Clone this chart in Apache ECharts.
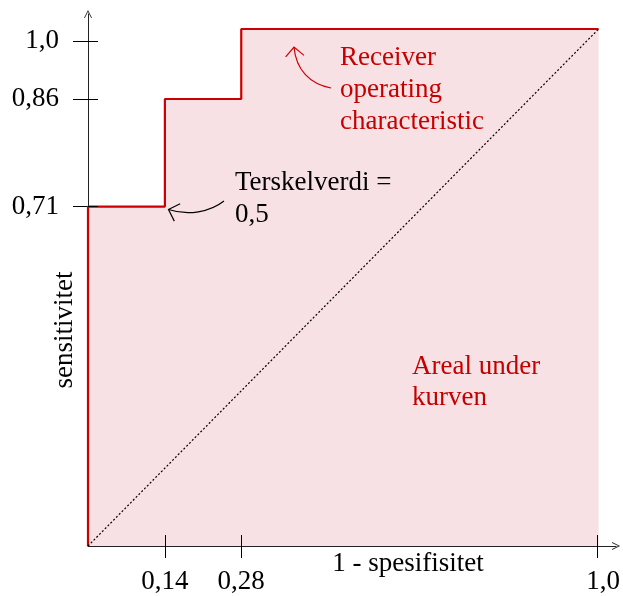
<!DOCTYPE html>
<html>
<head>
<meta charset="utf-8">
<script src="https://cdn.jsdelivr.net/npm/echarts@6/dist/echarts.min.js"></script>
<style>html,body{margin:0;padding:0;background:#fff}#c{width:623px;height:596px}</style>
</head>
<body>
<div id="c"></div>
<script>
// Tick positions (in drawing units) and their printed labels
const xTickValues = [0.151, 0.301, 1.0];
const xTickLabels = ['0,14', '0,28', '1,0'];
const yTickValues = [0.6725, 0.8855, 1.0];
const yTickLabels = ['0,71', '0,86', '1,0'];
// ROC step curve (1 - specificity, sensitivity) as drawn
const rocFpr = [0, 0, 0.151, 0.301, 1.003];
const rocTpr = [0, 0.6725, 0.8855, 1.0242, 1.0242];
// Chance diagonal
const diagFpr = [0, 1.003];
const diagTpr = [0, 1.0242];

const FONT = 'Liberation Serif';
const RED = '#cc0000';
const TXTRED = '#c40000';

function labelFor(vals, labs, v) {
  for (let i = 0; i < vals.length; i++) if (Math.abs(vals[i] - v) < 1e-6) return labs[i];
  return '';
}

const chart = echarts.init(document.getElementById('c'), null, {renderer: 'canvas'});

const arrowSym = 'path://M0,10 L5,0 L10,10 L8.9,10 L5,2.2 L1.1,10 Z';

const xMax = 1.0372, yMax = 1.0539;

function arrowGraphics(p0, p1, p2, p3, color) {
  const tx = p3[0] - p2[0], ty = p3[1] - p2[1];
  const len = Math.hypot(tx, ty);
  const bx = -tx / len, by = -ty / len;
  const L = 13, a = Math.PI / 4;
  const rot = (ang) => [p3[0] + L * (bx * Math.cos(ang) - by * Math.sin(ang)),
                        p3[1] + L * (bx * Math.sin(ang) + by * Math.cos(ang))];
  return [
    {type: 'bezierCurve', z: 20, shape: {x1: p0[0], y1: p0[1], cpx1: p1[0], cpy1: p1[1], cpx2: p2[0], cpy2: p2[1], x2: p3[0], y2: p3[1]},
     style: {stroke: color, lineWidth: 1.2, fill: null}},
    {type: 'polyline', z: 20, shape: {points: [rot(a), p3, rot(-a)]},
     style: {stroke: color, lineWidth: 1.2, fill: null}}
  ];
}

const option = {
  animation: false,
  backgroundColor: '#fff',
  grid: {left: 88, right: 5, top: 14, bottom: 50, containLabel: false},
  xAxis: [
    {
      type: 'value', min: 0, max: xMax, z: 5,
      splitLine: {show: false},
      axisLine: {show: true, lineStyle: {color: '#222', width: 1}, symbol: ['none', arrowSym], symbolSize: [9, 8]},
      axisTick: {show: true, length: 12, customValues: xTickValues, lineStyle: {color: '#000', width: 1}},
      axisLabel: {
        show: true, customValues: xTickValues, margin: 22,
        fontFamily: FONT, fontSize: 27, color: '#000',
        formatter: (v) => {
          const s = labelFor(xTickValues, xTickLabels, v);
          return Math.abs(v - 1) < 1e-6 ? '{r|' + s + '}' : s;
        },
        rich: {r: {fontFamily: FONT, fontSize: 27, color: '#000', padding: [0, 0, 0, 12]}}
      }
    },
    {
      type: 'value', min: 0, max: xMax, position: 'bottom', z: 5,
      splitLine: {show: false},
      axisLine: {show: false},
      axisTick: {show: true, inside: true, length: 11, customValues: xTickValues, lineStyle: {color: '#000', width: 1}},
      axisLabel: {show: false}
    }
  ],
  yAxis: [
    {
      type: 'value', min: 0, max: yMax, z: 0,
      splitLine: {show: false},
      axisLine: {show: true, lineStyle: {color: '#222', width: 1}, symbol: ['none', arrowSym], symbolSize: [9, 8]},
      axisTick: {show: true, length: 15, customValues: yTickValues, lineStyle: {color: '#000', width: 1}},
      axisLabel: {
        show: true, customValues: yTickValues, margin: 29,
        fontFamily: FONT, fontSize: 27, color: '#000', padding: [4, 0, 0, 0],
        formatter: (v) => labelFor(yTickValues, yTickLabels, v)
      }
    },
    {
      type: 'value', min: 0, max: yMax, position: 'left', z: 5,
      splitLine: {show: false},
      axisLine: {show: false},
      axisTick: {show: true, inside: true, length: 10, customValues: yTickValues, lineStyle: {color: '#000', width: 1}},
      axisLabel: {show: false}
    }
  ],
  series: [
    {
      name: 'ROC', type: 'line', step: 'end', xAxisIndex: 0, yAxisIndex: 0,
      data: rocFpr.map((x, i) => [x, rocTpr[i]]),
      showSymbol: false, symbol: 'none', z: 3,
      lineStyle: {color: RED, width: 2.2},
      areaStyle: {color: '#f7e1e4', opacity: 1, origin: 'start'}
    },
    {
      name: 'diag', type: 'line', xAxisIndex: 0, yAxisIndex: 0,
      data: diagFpr.map((x, i) => [x, diagTpr[i]]),
      showSymbol: false, symbol: 'none', z: 4,
      lineStyle: {color: '#000', width: 1.2, type: [2, 2]}
    }
  ],
  graphic: [
    {type: 'text', z: 20, x: 340, y: 41.5, style: {text: 'Receiver\noperating\ncharacteristic', fill: TXTRED, font: '27px "' + FONT + '"', lineHeight: 32, verticalAlign: 'top', align: 'left'}},
    {type: 'text', z: 20, x: 235, y: 166.5, style: {text: 'Terskelverdi =\n0,5', fill: '#000', font: '27px "' + FONT + '"', lineHeight: 32, verticalAlign: 'top', align: 'left'}},
    {type: 'text', z: 20, x: 412, y: 351, style: {text: 'Areal under\nkurven', fill: TXTRED, font: '27px "' + FONT + '"', lineHeight: 31.5, verticalAlign: 'top', align: 'left'}},
    {type: 'text', z: 20, x: 408, y: 563.5, style: {text: '1 - spesifisitet', fill: '#000', font: '27px "' + FONT + '"', verticalAlign: 'middle', align: 'center'}},
    {type: 'text', z: 20, x: 65, y: 330, rotation: Math.PI / 2, style: {text: 'sensitivitet', fill: '#000', font: '27px "' + FONT + '"', verticalAlign: 'middle', align: 'center'}}
  ].concat(
    arrowGraphics([331, 88], [310, 84], [296, 70], [294, 47], RED),
    arrowGraphics([224, 201], [210, 212], [188, 216], [168.5, 209.5], '#000')
  )
};

chart.setOption(option);
</script>
</body>
</html>
